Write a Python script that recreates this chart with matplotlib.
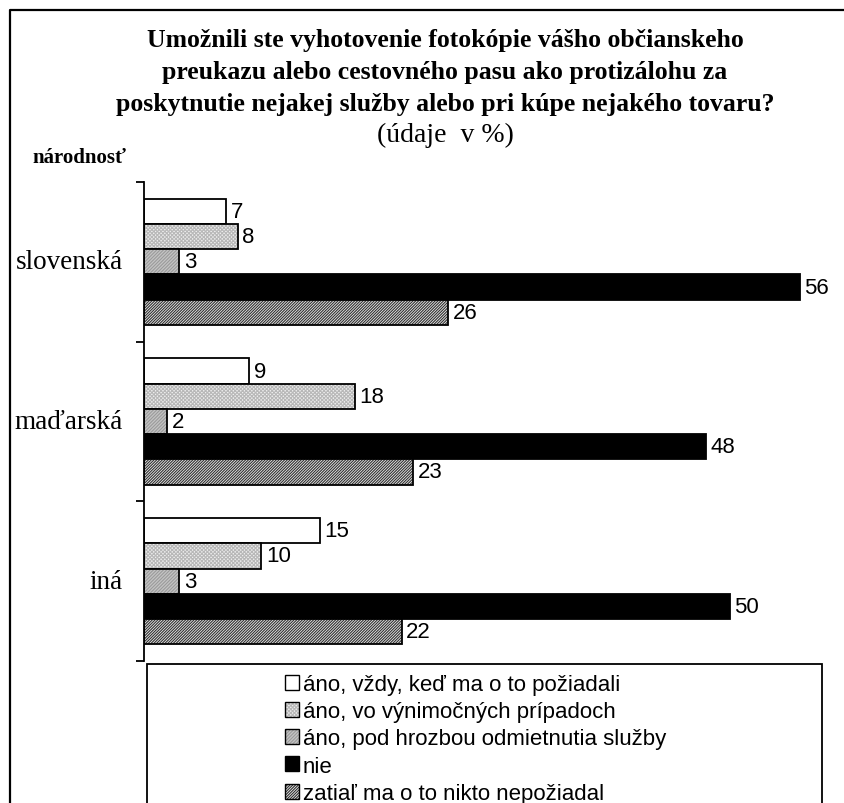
import matplotlib.pyplot as plt
from matplotlib.patches import Rectangle, Patch
from matplotlib.lines import Line2D
import numpy as np

# data
groups = ["slovenská", "maďarská", "iná"]
series = ["áno, vždy, keď ma o to požiadali",
          "áno, vo výnimočných prípadoch",
          "áno, pod hrozbou odmietnutia služby",
          "nie",
          "zatiaľ ma o to nikto nepožiadal"]
values = [[7, 9, 15],
          [8, 18, 10],
          [3, 2, 3],
          [56, 48, 50],
          [26, 23, 22]]

title_lines = ["Umožnili ste vyhotovenie fotokópie vášho občianskeho",
               "preukazu alebo cestovného pasu ako protizálohu za",
               "poskytnutie nejakej služby alebo pri kúpe nejakého tovaru?"]
subtitle = "(údaje  v %)"
ylabel = "národnosť"

# style: (face, hatch, hatch colour)
styles = [("white", None, None),
          ("#eeeeee", "xxxxxxxxx", "#b8b8b8"),
          ("#c4c4c4", "//////////", "#9a9a9a"),
          ("black", None, None),
          ("#ececec", "////////////", "#303030")]

W, H = 844, 804
fig = plt.figure(figsize=(W / 100, H / 100), dpi=100)
plt.rcParams["hatch.linewidth"] = 0.8

ax = fig.add_axes([144 / W, 1 - 662 / H, 700 / W, (662 - 183) / H])

bar_h = 0.158
centers = np.arange(len(groups)) + 0.5
handles = []
for i, vals in enumerate(values):
    face, hatch, hcol = styles[i]
    y = centers + (i - 2) * bar_h
    if hatch:
        # hatched fill first, then the black outline on top
        ax.barh(y, vals, height=bar_h, color=face, hatch=hatch,
                edgecolor=hcol, linewidth=0)
        ax.barh(y, vals, height=bar_h, fill=False, edgecolor="black",
                linewidth=1.3)
        handles.append((Patch(facecolor=face, hatch=hatch, edgecolor=hcol, linewidth=0),
                        Patch(fill=False, edgecolor="black", linewidth=1.0)))
    else:
        ax.barh(y, vals, height=bar_h, color=face, edgecolor="black",
                linewidth=1.3)
        handles.append(Patch(facecolor=face, edgecolor="black", linewidth=1.0))
    for yy, v in zip(y, vals):
        ax.text(v + 0.4, yy, str(v), va="center", ha="left",
                fontsize=16, family="Liberation Sans")

ax.set_xlim(0, 700 / 11.71)
ax.set_ylim(3, 0)
ax.set_yticks([0, 1, 2, 3])
ax.set_yticklabels([])
ax.tick_params(axis="y", length=6, width=1.3, direction="out")
ax.set_xticks([])
for s in ["top", "right", "bottom"]:
    ax.spines[s].set_visible(False)
ax.spines["left"].set_linewidth(1.3)

for c, g in zip(centers, groups):
    fig.text(123 / W, 1 - (183 + c * 159.7) / H, g, ha="right", va="center",
             fontsize=19.5, family="Liberation Serif")

# titles
for k, line in enumerate(title_lines):
    fig.text(445 / W, 1 - (40 + 32 * k) / H, line, ha="center", va="center",
             fontsize=18.5, fontweight="bold", family="Liberation Serif")
fig.text(445 / W, 1 - 135 / H, subtitle, ha="center", va="center",
         fontsize=20, family="Liberation Serif")
fig.text(32 / W, 1 - 158 / H, ylabel, ha="left", va="center",
         fontsize=15, fontweight="bold", family="Liberation Serif")

# outer frame
fig.add_artist(Line2D([10 / W, 10 / W, 1], [0, 1 - 11 / H, 1 - 11 / H],
                      color="black", linewidth=1.6))

# legend box
fig.add_artist(Rectangle((147 / W, -0.02), (822 - 147) / W, 0.02 + 1 - 665 / H,
                         fill=False, edgecolor="black", linewidth=1.3))
leg = fig.legend(handles, series, loc="upper left",
                 bbox_to_anchor=(285 / W, 1 - 675 / H), frameon=False,
                 prop={"family": "Liberation Sans", "size": 16},
                 handlelength=0.65, handleheight=0.65, handletextpad=0.15,
                 labelspacing=0.28, borderpad=0, borderaxespad=0)

fig.savefig("out.png", dpi=100)
